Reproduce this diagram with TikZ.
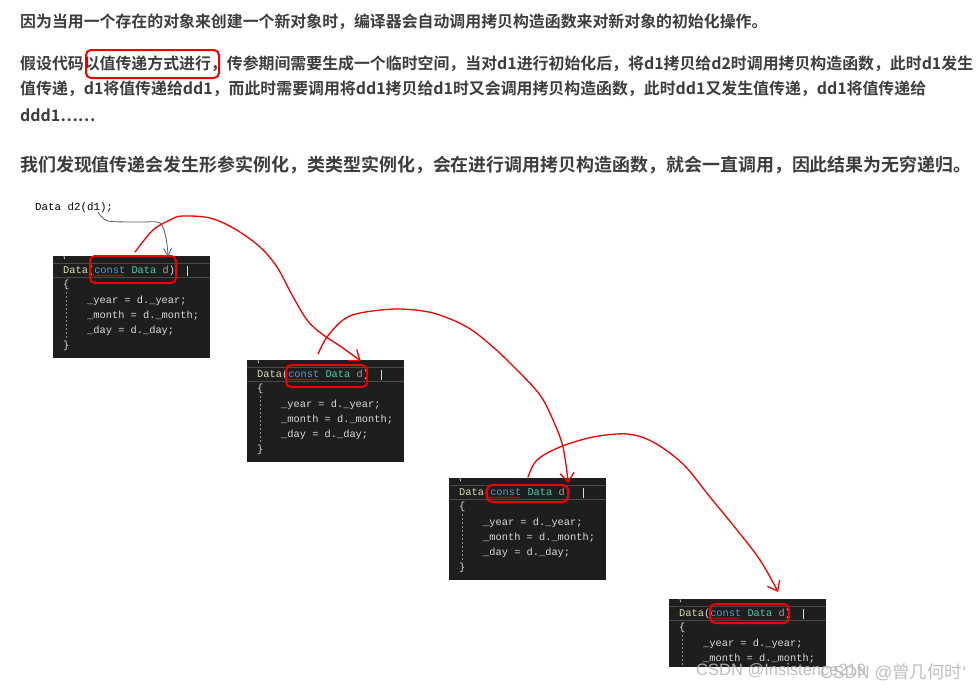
\documentclass[tikz,border=0pt]{standalone}
\usepackage{fontspec}
\setmainfont{Liberation Sans}
\newfontfamily\cjkb{Noto Sans CJK SC Bold}
\newfontfamily\cjkr{Noto Sans CJK SC}
\newfontfamily\monof{Liberation Mono}
\usetikzlibrary{arrows.meta,decorations.pathmorphing,calc}
\definecolor{txt}{HTML}{3D3D3D}
\definecolor{cbg}{HTML}{1E1E1E}
\definecolor{cline}{HTML}{4A4A4A}
\definecolor{fnc}{HTML}{DCDCAA}
\definecolor{kw}{HTML}{569CD6}
\definecolor{ty}{HTML}{4EC9B0}
\definecolor{par}{HTML}{A0A0A0}
\definecolor{pun}{HTML}{DCDCDC}
\definecolor{bodyc}{HTML}{DADADA}
\definecolor{pen}{HTML}{F00000}
\definecolor{wm}{HTML}{B8B8B8}
\tikzset{
  para/.style={anchor=west,inner sep=0pt,text=txt,font=\cjkb\fontsize{15.9}{18}\selectfont},
  headline/.style={anchor=west,inner sep=0pt,text=txt,font=\cjkb\fontsize{17.95}{20}\selectfont},
  mono/.style={anchor=west,inner sep=0pt,font=\monof\fontsize{10.35}{12}\selectfont},
  codebg/.style={fill=cbg,draw=none,minimum width=157pt,inner sep=0pt,anchor=north west},
  hlbox/.style={draw=pen,line width=2pt,rounded corners=5pt,inner sep=0pt},
  redpen/.style={draw=pen,line width=1.3pt,line cap=round,line join=round,
     -{Straight Barb[length=9pt,width=14pt,line width=1.3pt]}},
  graypen/.style={draw=black!65,line width=0.8pt,
     -{Straight Barb[length=8pt,width=8pt,line width=0.8pt]}},
  wmtext/.style={inner sep=0pt,anchor=west,text=wm,text opacity=0.9,font=\fontsize{16.5}{18}\selectfont}
}
% name, x, y, height, full (1) or cut (0)
\newcommand\codeblk[5]{%
  \node[codebg,minimum height=#4pt] (#1) at (#2,#3) {};
  \begin{scope}[shift={(#2,#3)}]
    \clip (0,0) rectangle (157,#4);
    \draw[cline,line width=0.8pt] (0,7) -- (157,7);
    \draw[cline,line width=0.8pt] (0,21) -- (157,21);
    \draw[pun,line width=0.7pt] (11,0) -- (11.5,3);
    \node[mono] at (10,14.5) {\textcolor{fnc}{Data}\textcolor{pun}{(}\textcolor{kw}{const} \textcolor{ty}{Data} \textcolor{par}{d}\textcolor{pun}{)}};
    \draw[pen,line width=0.5pt,decorate,decoration={snake,amplitude=0.8pt,segment length=3pt}] (40,19.5) -- (71,19.5);
    \draw[pun,line width=0.8pt] (134,9.5) -- (134,19.5);
    \node[mono] at (10,29) {\textcolor{pun}{\{}};
    \node[mono] at (34,45) {\textcolor{bodyc}{\_year = d.\_year;}};
    \node[mono] at (34,60) {\textcolor{bodyc}{\_month = d.\_month;}};
    \ifnum#5=1
      \draw[black!45,line width=0.6pt,dash pattern=on 2pt off 2pt] (13,36) -- (13,84);
      \node[mono] at (34,75) {\textcolor{bodyc}{\_day = d.\_day;}};
      \node[mono] at (10,90) {\textcolor{pun}{\}}};
    \else
      \draw[black!45,line width=0.6pt,dash pattern=on 2pt off 2pt] (13,36) -- (13,#4);
    \fi
  \end{scope}}
\begin{document}
\begin{tikzpicture}[x=1pt,y=-1pt]
\useasboundingbox (0,0) rectangle (978,691);
\fill[white] (0,0) rectangle (978,691);

% paragraphs
\node[para] (l1) at (20,22) {因为当用一个存在的对象来创建一个新对象时，编译器会自动调用拷贝构造函数来对新对象的初始化操作。};
\node[para] (l2) at (20,64) {假设代码以值传递方式进行，传参期间需要生成一个临时空间，当对d1进行初始化后，将d1拷贝给d2时调用拷贝构造函数，此时d1发生};
\node[para] (l3) at (20,89) {值传递，d1将值传递给dd1，而此时需要调用将dd1拷贝给d1时又会调用拷贝构造函数，此时dd1又发生值传递，dd1将值传递给};
\node[para] (l4) at (20,115) {ddd1……};
\node[hlbox,minimum width=133pt,minimum height=28pt] (hl) at (152.5,64) {};
\node[headline] (l5) at (20,165) {我们发现值传递会发生形参实例化，类类型实例化，会在进行调用拷贝构造函数，就会一直调用，因此结果为无穷递归。};

% caller
\node[mono,font=\monof\fontsize{10.8}{12}\selectfont,text=black] (src) at (35,208) {Data d2(d1);};

% code blocks
\codeblk{c1}{53}{256}{102}{1}
\codeblk{c2}{247}{360}{102}{1}
\codeblk{c3}{449}{478}{102}{1}
\codeblk{c4}{669}{599}{68}{0}

% red highlight boxes
\node[hlbox,minimum width=86pt,minimum height=27pt] (r1) at (133,269.5) {};
\node[hlbox,minimum width=81pt,minimum height=22pt] (r2) at (326.5,376) {};
\node[hlbox,minimum width=81pt,minimum height=17pt] (r3) at (527.5,493.5) {};
\node[hlbox,minimum width=79pt,minimum height=19pt] (r4) at (749.5,613.5) {};

% gray arrow
\coordinate (g0) at ($(src.south)+(24,-1)$);
\coordinate (g1) at ($(c1.north)+(36.5,1)$);
\draw[graypen] plot[smooth,tension=0.5] coordinates {(g0) (108,221) (140,222) (160,223) (166,238) (g1)};

% red recursion arrows
\coordinate (a0) at ($(r1.north)+(2,-3)$);
\coordinate (a1) at ($(c2.north)+(35,1)$);
\draw[redpen] plot[smooth,tension=0.55] coordinates {(a0) (153,230) (170,220) (182,216) (210,218) (235,229) (260,247) (277,267) (291,293) (307,320) (322,334) (340,346) (a1)};

\coordinate (b0) at ($(r2.north)+(-8.5,-10)$);
\coordinate (b1) at ($(c3.north)+(40.5,5)$);
\draw[redpen] plot[smooth,tension=0.55] coordinates {(b0) (327,337) (343,320) (360,313) (397,309) (433,313) (467,327) (493,347) (517,370) (540,395) (553,420) (563,447) (b1)};

\coordinate (e0) at ($(r3.north)+(0.5,-7)$);
\coordinate (e1) at ($(c4.north)+(30.5,-7)$);
\draw[redpen] plot[smooth,tension=0.55] coordinates {(e0) (537,460) (560,447) (593,437) (627,434) (653,442) (683,464) (710,497) (737,530) (760,560) (e1)};

% watermarks
\node[wmtext] (w1) at (696,671) {CSDN @Insistence219};
\node[wmtext,font=\fontsize{17.5}{19}\selectfont] (w2) at (820,672) {CSDN @{\cjkr 曾几何时}`};
\end{tikzpicture}
\end{document}
